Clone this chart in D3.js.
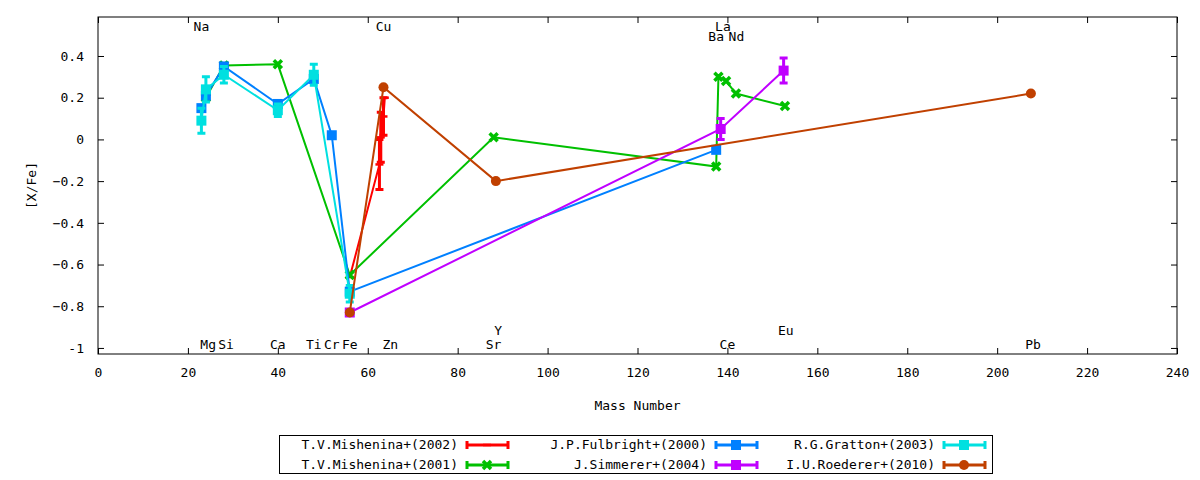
<!DOCTYPE html>
<html><head><meta charset="utf-8">
<script src="https://cdn.jsdelivr.net/npm/d3@7"></script>
<style>body{margin:0;background:#fff}text{font-family:"DejaVu Sans Mono",monospace;font-size:13px}</style>
</head><body><svg width="1200" height="480"></svg>
<script>
//Series data: [mass, [X/Fe], error]
const mishenina2002 = [[56,-0.66,0],[62.6,-0.12,0.12],[62.9,0.01,0.12],[63.5,0.11,0.09],[63.8,0.2,0]];
const mishenina2001 = [[24,0.2,0],[28,0.355,0],[40,0.36,0],[56,-0.65,0],[88,0.01,0],[137.5,-0.13,0],[138,0.3,0],[139.7,0.28,0],[141.9,0.22,0],[152.8,0.16,0]];
const fulbright = [[23,0.15,0],[24,0.21,0],[28,0.35,0],[40,0.17,0],[48,0.29,0],[52,0.02,0],[56,-0.73,0],[137.5,-0.05,0]];
const simmerer = [[56,-0.83,0],[138.5,0.05,0.05],[152.5,0.33,0.06]];
const gratton = [[23,0.09,0.06],[24,0.24,0.06],[28,0.31,0.04],[40,0.14,0.03],[48,0.31,0.05],[56,-0.74,0.04]];
const roederer = [[56,-0.83,0],[63.5,0.25,0],[88.5,-0.2,0],[207.5,0.22,0]];

const seriesNames = ["T.V.Mishenina+(2002)","T.V.Mishenina+(2001)","J.P.Fulbright+(2000)","J.Simmerer+(2004)","R.G.Gratton+(2003)","I.U.Roederer+(2010)"];
const seriesColors = ["#ff0000","#00c000","#0080ff","#c000ff","#00e0e0","#c04000"];
const seriesMarks = ["plus","cross","square","square","square","circle"];
const seriesData = [mishenina2002,mishenina2001,fulbright,simmerer,gratton,roederer];

//Element labels: [name, mass, row] row 0 top, 1 top-second, 2 bottom, 3 bottom-upper
const elementLabels = [["Na",23,0],["Cu",63.5,0],["La",139,0],["Ba",137.5,1],["Nd",142,1],
  ["Mg",24.5,2],["Si",28.5,2],["Ca",40,2],["Ti",48,2],["Cr",52,2],["Fe",56,2],["Zn",65,2],["Sr",88,2],["Ce",140,2],["Pb",208,2],
  ["Y",89,3],["Eu",153,3]];
const xTicks = d3.range(0,241,20);
const yTicks = [0.4,0.2,0,-0.2,-0.4,-0.6,-0.8,-1];

const pLeft = 98, pRight = 1177, pTop = 17, pBottom = 354;
const svg = d3.select("svg");
const x = d3.scaleLinear().domain([0,240]).range([pLeft,pRight]);
const y = d3.scaleLinear().domain([-1.029,0.587]).range([pBottom,pTop]);

//Frame and axes
svg.append("rect").attr("x",pLeft).attr("y",pTop).attr("width",pRight-pLeft).attr("height",pBottom-pTop)
  .attr("fill","none").attr("stroke","#000");
svg.append("g").attr("transform",`translate(0,${pBottom})`)
  .call(d3.axisBottom(x).tickValues(xTicks).tickSize(-6).tickPadding(14))
  .call(g=>g.select(".domain").remove());
svg.append("g").attr("transform",`translate(0,${pTop})`)
  .call(d3.axisTop(x).tickValues(xTicks).tickSize(-6).tickFormat(""))
  .call(g=>g.select(".domain").remove());
svg.append("g").attr("transform",`translate(${pLeft},0)`)
  .call(d3.axisLeft(y).tickValues(yTicks).tickSize(-6).tickPadding(14).tickFormat(d=>d===0?"0":d===-1?"-1":d3.format(".1f")(d)))
  .call(g=>g.select(".domain").remove());
svg.append("g").attr("transform",`translate(${pRight},0)`)
  .call(d3.axisRight(y).tickValues(yTicks).tickSize(-6).tickFormat(""))
  .call(g=>g.select(".domain").remove());
svg.selectAll(".tick text").style("font-family","DejaVu Sans Mono").style("font-size","13px").attr("fill","#000");

svg.append("text").attr("x",(pLeft+pRight)/2).attr("y",410).attr("text-anchor","middle").text("Mass Number");
svg.append("text").attr("transform",`translate(36,${(pTop+pBottom)/2}) rotate(-90)`).attr("text-anchor","middle").text("[X/Fe]");

//Element labels
const rowY = [31,41,349,335];
svg.append("g").selectAll("text").data(elementLabels).join("text")
  .attr("x",d=>x(d[1])).attr("y",d=>rowY[d[2]]).attr("text-anchor","middle").text(d=>d[0]);

function drawMark(g,type,cx,cy,color){
  if(type==="square") g.append("rect").attr("x",cx-5).attr("y",cy-5).attr("width",10).attr("height",10).attr("fill",color);
  else if(type==="circle") g.append("circle").attr("cx",cx).attr("cy",cy).attr("r",5).attr("fill",color);
  else if(type==="cross") g.append("path").attr("d",`M${cx-4},${cy-4}L${cx+4},${cy+4}M${cx-4},${cy+4}L${cx+4},${cy-4}`).attr("stroke",color).attr("stroke-width",3.5);
  else g.append("path").attr("d",`M${cx-4},${cy}L${cx+4},${cy}`).attr("stroke",color).attr("stroke-width",2.5);
}

const line = d3.line().x(d=>x(d[0])).y(d=>y(d[1]));
seriesData.forEach((data,i)=>{
  const c = seriesColors[i];
  const g = svg.append("g");
  g.append("path").datum(data).attr("d",line).attr("fill","none").attr("stroke",c).attr("stroke-width",2);
  data.forEach(d=>{
    if(d[2]>0){
      const x0=x(d[0]), y1=y(d[1]-d[2]), y2=y(d[1]+d[2]);
      g.append("path").attr("d",`M${x0},${y1}L${x0},${y2}M${x0-4},${y1}L${x0+4},${y1}M${x0-4},${y2}L${x0+4},${y2}`)
        .attr("stroke",c).attr("stroke-width",3).attr("fill","none");
    }
    drawMark(g,seriesMarks[i],x(d[0]),y(d[1]),c);
  });
});

//Legend
svg.append("rect").attr("x",279.5).attr("y",435.5).attr("width",713).attr("height",38).attr("fill","#fff").attr("stroke","#000");
const colX = [467,716,944], rowLY = [445,465];
seriesNames.forEach((name,i)=>{
  const cx = colX[Math.floor(i/2)], cy = rowLY[i%2], c = seriesColors[i];
  svg.append("text").attr("x",cx-9).attr("y",cy+4).attr("text-anchor","end").text(name);
  const g = svg.append("g");
  g.append("path").attr("d",`M${cx},${cy}L${cx+41},${cy}M${cx},${cy-4}L${cx},${cy+4}M${cx+41},${cy-4}L${cx+41},${cy+4}`)
    .attr("stroke",c).attr("stroke-width",3);
  drawMark(g,seriesMarks[i],cx+20,cy,c);
});
</script></body></html>
